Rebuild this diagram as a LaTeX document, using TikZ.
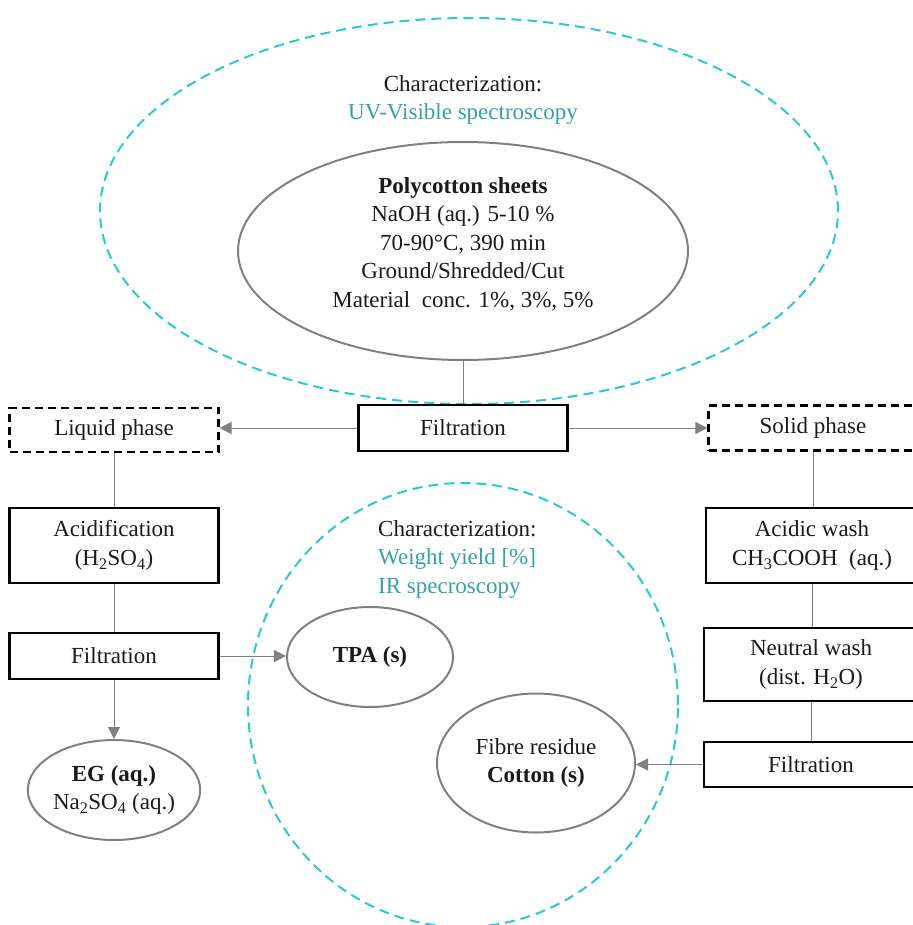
\documentclass[tikz,border=0pt]{standalone}
\usepackage{fontspec}
\setmainfont{Liberation Serif}
\usetikzlibrary{shapes.geometric,arrows.meta}
\definecolor{cyandash}{HTML}{2CC7D3}
\definecolor{tealtext}{HTML}{35A2A6}
\definecolor{linegray}{HTML}{808080}
\definecolor{inkblack}{HTML}{1A1A1A}
\begin{document}
\begin{tikzpicture}[x=1pt,y=-1pt,
  every node/.style={font=\fontsize{23}{28.5}\selectfont, inner sep=0pt, text=inkblack},
  procbox/.style={draw=black, line width=2.1pt, align=center},
  phasebox/.style={procbox, dash pattern=on 8pt off 5pt},
  prodell/.style={ellipse, draw=linegray, line width=2pt, align=center},
  conn/.style={draw=linegray, line width=1pt},
  arr/.style={conn, -{Triangle[length=12pt,width=12pt]}},
  charell/.style={ellipse, draw=cyandash, line width=2pt, dash pattern=on 10pt off 6pt}
]
\useasboundingbox (0,0) rectangle (912,925);

% characterization ellipses
\node[charell, minimum width=738pt, minimum height=386pt] (chtop) at (469,211) {};
\node[charell, minimum width=430pt, minimum height=444pt] (chbot) at (463,705) {};

\node[align=center] (chtoptext) at (463,100) {Characterization:\\\textcolor{tealtext}{UV-Visible spectroscopy}};
\node[align=left, anchor=west] (chbottext) at (378,559) {Characterization:\\\textcolor{tealtext}{Weight yield [\%]}\\\textcolor{tealtext}{IR specroscopy}};

% polycotton
\node[prodell, minimum width=450pt, minimum height=218pt] (poly) at (463,251) {};
\node[align=center] (polytext) at (463,244) {\textbf{Polycotton sheets}\\NaOH (aq.) 5-10 \%\\70-90°C, 390 min\\Ground/Shredded/Cut\\Material\ \ conc. 1\%, 3\%, 5\%};

% boxes
\node[procbox, minimum width=209pt, minimum height=46pt] (filttop) at (463,428) {Filtration};
\node[phasebox, minimum width=209pt, minimum height=44pt] (liquid) at (114,430) {Liquid phase};
\node[phasebox, minimum width=209pt, minimum height=45pt] (solid) at (813,428) {Solid phase};
\node[procbox, minimum width=209pt, minimum height=75pt] (acid) at (114,545.5) {Acidification\\(H\textsubscript{2}SO\textsubscript{4})};
\node[procbox, minimum width=212pt, minimum height=75pt] (acidic) at (812,545.5) {Acidic wash\\CH\textsubscript{3}COOH\ \ (aq.)};
\node[procbox, minimum width=209pt, minimum height=46pt] (filtl) at (114,656) {Filtration};
\node[procbox, minimum width=214pt, minimum height=73pt] (neutral) at (811,664.5) {Neutral wash\\(dist. H\textsubscript{2}O)};
\node[procbox, minimum width=214pt, minimum height=45pt] (filtr) at (811,764.5) {Filtration};

% products
\node[prodell, minimum width=166pt, minimum height=100pt] (tpa) at (370,657) {\textbf{TPA (s)}};
\node[prodell, minimum width=166pt, minimum height=100pt] (eg) at (114,790) {\textbf{EG (aq.)}\\Na\textsubscript{2}SO\textsubscript{4} (aq.)};
\node[prodell, minimum width=198pt, minimum height=139pt] (cotton) at (536,763) {Fibre residue\\\textbf{Cotton (s)}};

% connectors
\draw[conn] (poly.south) -- (filttop.north);
\draw[arr] (filttop.west) -- (filttop.west -| liquid.east);
\draw[arr] (filttop.east) -- (solid.west);
\draw[conn] (liquid.south) -- (acid.north);
\draw[conn] (acid.south) -- (filtl.north);
\draw[arr] (filtl.east) -- (filtl.east -| tpa.west);
\draw[arr] (filtl.south) -- (eg.north);
\draw[conn] (solid.south) -- (solid.south |- acidic.north);
\draw[conn] (acidic.south) -- (acidic.south |- neutral.north);
\draw[conn] (neutral.south) -- (neutral.south |- filtr.north);
\draw[arr] (filtr.west) -- (filtr.west -| cotton.east);
\end{tikzpicture}
\end{document}
